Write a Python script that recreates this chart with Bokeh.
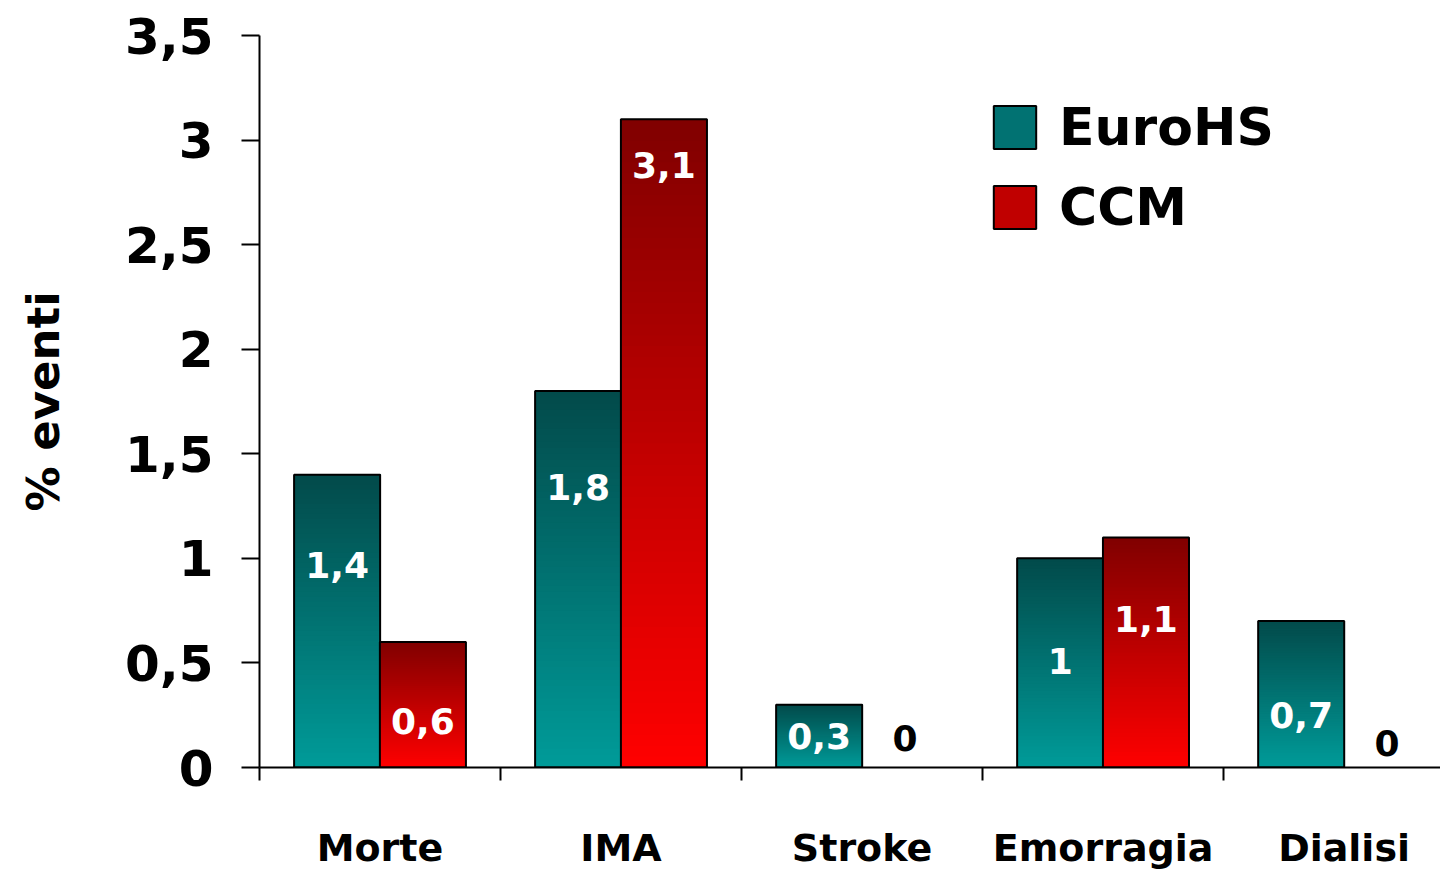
from bokeh.plotting import figure
from bokeh.models import Range1d, FixedTicker, Legend, LegendItem, ColumnDataSource
from bokeh.core.properties import value
from bokeh.embed import file_html
from bokeh.resources import INLINE

# ---- data ----
categories = ["Morte", "IMA", "Stroke", "Emorragia", "Dialisi"]
euro_hs = [1.4, 1.8, 0.3, 1.0, 0.7]
ccm = [0.6, 3.1, 0.0, 1.1, 0.0]
# vertical positions (data units) of the value labels
euro_label_y = [0.97, 1.34, 0.15, 0.51, 0.25]
ccm_label_y = [0.22, 2.88, 0.14, 0.71, 0.115]
y_ticks = [0, 0.5, 1, 1.5, 2, 2.5, 3, 3.5]

FONT = "DejaVu Sans"
TEAL_TOP, TEAL_BOT = (0x02, 0x4a, 0x4a), (0x00, 0x9b, 0x99)
RED_TOP, RED_BOT = (0x80, 0x00, 0x00), (0xff, 0x00, 0x00)
BAR_W = 0.357
OFFSET = 0.178
N_SLICES = 60


def fmt(v):
    return ("%g" % v).replace(".", ",")


def mix(c0, c1, t):
    return "#%02x%02x%02x" % tuple(int(round(a + (b - a) * t)) for a, b in zip(c0, c1))


p = figure(width=1440, height=873, x_range=Range1d(0, 4.90), y_range=Range1d(0, 3.5),
           output_backend="svg", toolbar_location=None,
           min_border_left=259, min_border_right=0, min_border_top=35, min_border_bottom=106)
p.grid.visible = False
p.outline_line_color = None
p.background_fill_color = "white"
p.border_fill_color = "white"


def draw_bars(values, offset, top_c, bot_c):
    left, right, bottom, top, color = [], [], [], [], []
    for i, v in enumerate(values):
        if v <= 0:
            continue
        cx = i + 0.5 + offset
        for k in range(N_SLICES):
            left.append(cx - BAR_W / 2)
            right.append(cx + BAR_W / 2)
            bottom.append(v * k / N_SLICES)
            top.append(v)
            color.append(mix(bot_c, top_c, (k + 0.5) / N_SLICES))
    src = ColumnDataSource(dict(left=left, right=right, bottom=bottom, top=top, color=color))
    p.quad(left="left", right="right", bottom="bottom", top="top", fill_color="color",
           line_color=None, source=src)
    xs = [i + 0.5 + offset for i, v in enumerate(values) if v > 0]
    hs = [v for v in values if v > 0]
    p.vbar(x=xs, top=hs, bottom=0, width=BAR_W, fill_color=None,
           line_color="black", line_width=2)


draw_bars(euro_hs, -OFFSET, TEAL_TOP, TEAL_BOT)
draw_bars(ccm, OFFSET, RED_TOP, RED_BOT)

# value labels
for vals, ys, off in ((euro_hs, euro_label_y, -OFFSET), (ccm, ccm_label_y, OFFSET)):
    xs = [i + 0.5 + off for i in range(len(vals))]
    cols = ["white" if v > 0 else "black" for v in vals]
    src = ColumnDataSource(dict(x=xs, y=ys, t=[fmt(v) for v in vals], c=cols))
    p.text(x="x", y="y", text="t", text_color="c", source=src, text_align="center",
           text_baseline="middle", text_font=value(FONT), text_font_style="bold",
           text_font_size="36px")

# legend proxies (never visible in the data area)
r_teal = p.quad(left=[-10], right=[-9], bottom=[-10], top=[-9],
                fill_color=mix(TEAL_TOP, TEAL_BOT, 0.5), line_color="black", line_width=2)
r_red = p.quad(left=[-10], right=[-9], bottom=[-10], top=[-9],
               fill_color=mix(RED_TOP, RED_BOT, 0.5), line_color="black", line_width=2)
legend = Legend(items=[LegendItem(label="EuroHS", renderers=[r_teal]),
                       LegendItem(label="CCM", renderers=[r_red])],
                location=(729, 530), orientation="vertical")
legend.label_text_font = FONT
legend.label_text_font_style = "bold"
legend.label_text_font_size = "52px"
legend.label_text_color = "black"
legend.glyph_width = 53
legend.glyph_height = 54
legend.label_standoff = 18
legend.spacing = 20
legend.padding = 0
legend.margin = 0
legend.border_line_color = None
legend.background_fill_alpha = 0
p.add_layout(legend)

# y axis
ya = p.yaxis[0]
ya.ticker = FixedTicker(ticks=y_ticks)
ya.major_label_overrides = {t: fmt(t) for t in y_ticks}
ya.major_label_text_font = FONT
ya.major_label_text_font_style = "bold"
ya.major_label_text_font_size = "50px"
ya.major_label_text_color = "black"
ya.major_tick_out = 18
ya.major_tick_in = 0
ya.minor_tick_line_color = None
ya.major_tick_line_width = 2
ya.axis_line_width = 2
ya.axis_line_color = "black"
ya.major_tick_line_color = "black"
ya.major_label_standoff = 28
ya.axis_label = "% eventi"
ya.axis_label_text_font = FONT
ya.axis_label_text_font_style = "bold"
ya.axis_label_text_font_size = "45px"
ya.axis_label_text_color = "black"
ya.axis_label_standoff = 52

# x axis
xa = p.xaxis[0]
xa.ticker = FixedTicker(ticks=[i + 0.5 for i in range(len(categories))],
                        minor_ticks=[float(i) for i in range(len(categories))])
xa.major_label_overrides = {i + 0.5: c for i, c in enumerate(categories)}
xa.major_tick_line_color = None
xa.major_tick_out = 0
xa.major_tick_in = 0
xa.minor_tick_line_color = "black"
xa.minor_tick_line_width = 2
xa.minor_tick_out = 13
xa.minor_tick_in = 0
xa.axis_line_width = 2
xa.axis_line_color = "black"
xa.major_label_text_font = FONT
xa.major_label_text_font_style = "bold"
xa.major_label_text_font_size = "38px"
xa.major_label_text_color = "black"
xa.major_label_standoff = 45

open("out.html", "w").write(file_html(p, INLINE))
